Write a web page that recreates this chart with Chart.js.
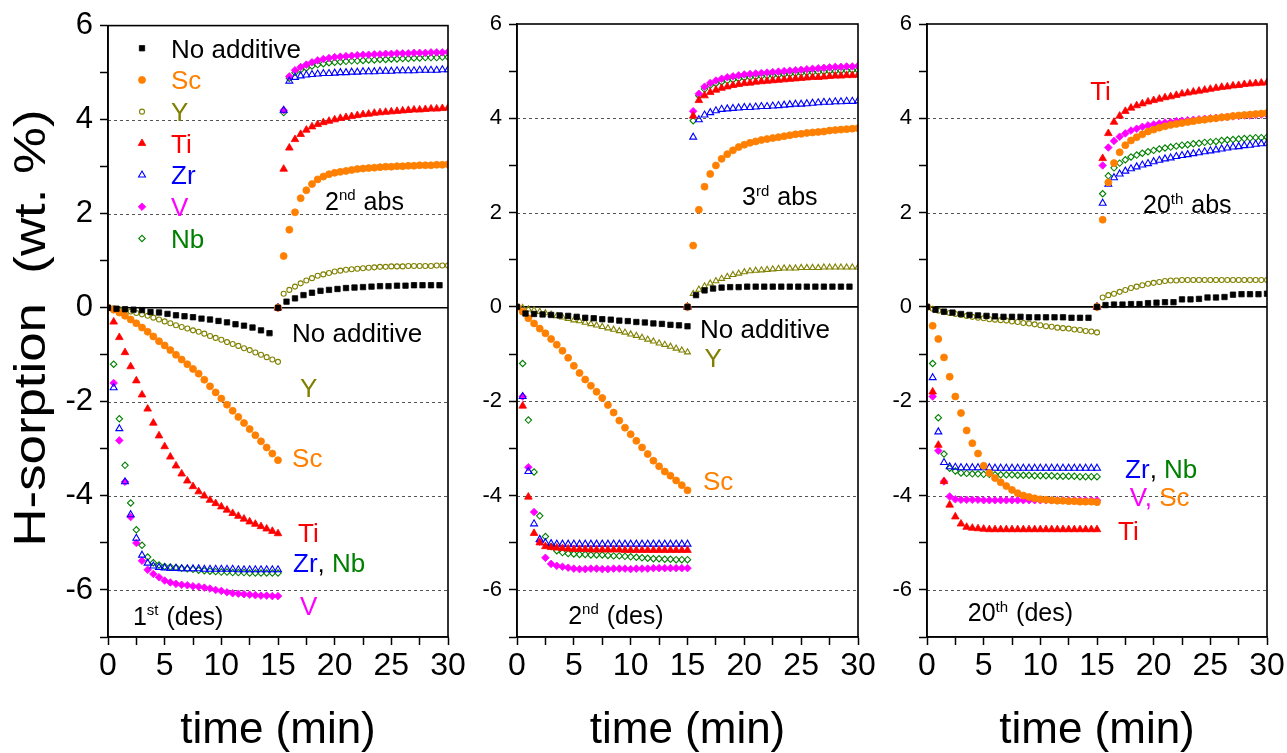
<!DOCTYPE html>
<html>
<head>
<meta charset="utf-8">
<script src="https://cdn.jsdelivr.net/npm/chart.js"></script>
<style>
  html, body { margin: 0; padding: 0; background: #fff; }
  #wrap { position: relative; width: 1287px; height: 753px; overflow: hidden; }
  canvas { position: absolute; top: 0; }
</style>
</head>
<body>
<div id="wrap">
  <canvas id="c1" width="470" height="753" style="left:0px"></canvas>
  <canvas id="c2" width="410" height="753" style="left:470px"></canvas>
  <canvas id="c3" width="407" height="753" style="left:880px"></canvas>
</div>
<script>
// ---------- time axes (min) ----------
const tDes = [0,0.5,1,1.5,2,2.5,3,3.5,4,4.5,5,5.5,6,6.5,7,7.5,8,8.5,9,9.5,10,10.5,11,11.5,12,12.5,13,13.5,14,14.5,15];
const tAbs = [15,15.5,16,16.5,17,17.5,18,18.5,19,19.5,20,20.5,21,21.5,22,22.5,23,23.5,24,24.5,25,25.5,26,26.5,27,27.5,28,28.5,29,29.5,30];
const tNaDes = [0,0.75,1.5,2.25,3,3.75,4.5,5.25,6,6.75,7.5,8.25,9,9.75,10.5,11.25,12,12.75,13.5,14.25,15];
const tNaAbs = [15,15.75,16.5,17.25,18,18.75,19.5,20.25,21,21.75,22.5,23.25,24,24.75,25.5,26.25,27,27.75,28.5,29.25,30];

// ---------- tick labels ----------
const yTickLabels = [-6,-4,-2,0,2,4,6];
const xTickLabels = [0,5,10,15,20,25,30];
const seriesNames = ['No additive','Sc','Y','Ti','Zr','V','Nb'];

// ---------- panel 1 : 1st desorption / 2nd absorption (wt.%) ----------
const p1NoAddDes = [0,-0.02,-0.03,-0.04,-0.05,-0.09,-0.1,-0.13,-0.16,-0.18,-0.2,-0.23,-0.25,-0.28,-0.31,-0.35,-0.38,-0.42,-0.48,-0.54];
const p1NoAddAbs = [0,0.13,0.2,0.27,0.32,0.36,0.38,0.4,0.42,0.43,0.44,0.45,0.46,0.46,0.47,0.47,0.48,0.48,0.48,0.48];
const p1ScDes = [0,-0.04,-0.1,-0.17,-0.25,-0.33,-0.42,-0.51,-0.61,-0.71,
                 -0.8,-0.9,-1.0,-1.1,-1.2,-1.3,-1.4,-1.53,-1.67,-1.8,
                 -1.93,-2.06,-2.19,-2.32,-2.45,-2.58,-2.71,-2.84,-2.97,-3.1,-3.24];
const p1ScAbs = [0,1.1,1.66,2.03,2.33,2.5,2.63,2.73,2.79,2.84,
                 2.87,2.89,2.91,2.93,2.95,2.96,2.97,2.98,2.99,3.0,
                 3.0,3.01,3.01,3.02,3.02,3.03,3.03,3.03,3.04,3.04,3.05];
const p1YDes = [0,-0.01,-0.03,-0.05,-0.08,-0.11,-0.14,-0.17,-0.21,-0.25,
                -0.29,-0.33,-0.37,-0.41,-0.44,-0.48,-0.51,-0.55,-0.6,-0.64,
                -0.68,-0.73,-0.77,-0.81,-0.86,-0.9,-0.95,-1.0,-1.05,-1.1,-1.15];
const p1YAbs = [0,0.3,0.38,0.45,0.52,0.58,0.63,0.68,0.71,0.74,
                0.77,0.79,0.81,0.82,0.83,0.84,0.85,0.86,0.87,0.87,
                0.88,0.88,0.88,0.89,0.89,0.89,0.89,0.89,0.9,0.9,0.9];
const p1TiDes = [0,-0.3,-0.63,-0.95,-1.25,-1.55,-1.85,-2.15,-2.45,-2.72,
                 -2.95,-3.17,-3.36,-3.53,-3.68,-3.8,-3.91,-4.0,-4.09,-4.16,
                 -4.23,-4.3,-4.37,-4.43,-4.49,-4.55,-4.6,-4.65,-4.7,-4.75,-4.8];
const p1TiAbs = [0,2.95,3.4,3.58,3.69,3.78,3.85,3.9,3.94,3.97,
                 4.0,4.03,4.05,4.07,4.09,4.11,4.12,4.14,4.15,4.16,
                 4.17,4.18,4.19,4.2,4.21,4.21,4.22,4.23,4.23,4.24,4.25];
const p1ZrDes = [0,-1.7,-2.57,-3.7,-4.4,-4.9,-5.26,-5.43,-5.49,-5.52,
                 -5.53,-5.54,-5.54,-5.55,-5.55,-5.55,-5.55,-5.56,-5.56,-5.56,
                 -5.56,-5.56,-5.56,-5.57,-5.57,-5.57,-5.57,-5.57,-5.57,-5.57,-5.57];
const p1ZrAbs = [0,4.2,4.82,4.9,4.93,4.95,4.96,4.97,4.98,4.98,
                 4.99,5.0,5.0,5.01,5.01,5.02,5.02,5.02,5.03,5.03,
                 5.03,5.04,5.04,5.04,5.04,5.05,5.05,5.05,5.05,5.06,5.06];
const p1VDes = [0,-1.6,-2.82,-3.7,-4.45,-5.0,-5.38,-5.57,-5.66,-5.73,
                -5.8,-5.84,-5.87,-5.89,-5.9,-5.92,-5.93,-5.95,-5.97,-6.0,
                -6.02,-6.05,-6.07,-6.08,-6.09,-6.1,-6.11,-6.12,-6.12,-6.13,-6.13];
const p1VAbs = [0,4.2,4.92,5.05,5.12,5.17,5.22,5.26,5.29,5.31,
                5.33,5.34,5.35,5.36,5.37,5.38,5.38,5.39,5.39,5.4,
                5.4,5.41,5.41,5.41,5.42,5.42,5.42,5.43,5.43,5.43,5.44];
const p1NbDes = [0,-1.2,-2.36,-3.35,-4.15,-4.72,-5.05,-5.3,-5.42,-5.47,
                 -5.5,-5.51,-5.52,-5.54,-5.55,-5.56,-5.58,-5.59,-5.6,-5.61,
                 -5.62,-5.62,-5.63,-5.63,-5.63,-5.64,-5.64,-5.64,-5.64,-5.64,-5.64];
const p1NbAbs = [0,4.15,4.88,5.0,5.06,5.1,5.14,5.17,5.19,5.21,
                 5.22,5.23,5.24,5.25,5.25,5.26,5.27,5.27,5.28,5.28,
                 5.29,5.29,5.3,5.3,5.31,5.31,5.32,5.32,5.32,5.33,5.33];

// ---------- panel 2 : 2nd desorption / 3rd absorption ----------
const p2NoAddDes = [0,-0.14,-0.15,-0.16,-0.17,-0.18,-0.19,-0.21,-0.23,-0.24,-0.26,-0.27,-0.29,-0.3,-0.32,-0.33,-0.35,-0.36,-0.38,-0.39,-0.41];
const p2NoAddAbs = [0,0.25,0.35,0.39,0.41,0.42,0.42,0.43,0.43,0.43,0.43,0.43,0.43,0.43,0.43,0.43,0.43,0.43,0.43,0.43];
const p2ScDes = [0,-0.1,-0.24,-0.35,-0.46,-0.56,-0.68,-0.8,-0.93,-1.08,
                 -1.25,-1.4,-1.54,-1.67,-1.8,-1.93,-2.08,-2.24,-2.41,-2.56,
                 -2.7,-2.84,-2.98,-3.12,-3.26,-3.38,-3.49,-3.58,-3.68,-3.78,-3.89];
const p2ScAbs = [0,1.3,2.06,2.55,2.82,3.0,3.14,3.24,3.32,3.39,
                 3.44,3.48,3.51,3.54,3.56,3.58,3.6,3.62,3.64,3.66,
                 3.67,3.69,3.7,3.71,3.72,3.74,3.75,3.76,3.77,3.78,3.79];
const p2YDes = [0,-0.02,-0.05,-0.07,-0.1,-0.13,-0.16,-0.19,-0.22,-0.25,
                -0.28,-0.3,-0.33,-0.36,-0.39,-0.42,-0.45,-0.48,-0.51,-0.54,
                -0.58,-0.61,-0.65,-0.69,-0.73,-0.77,-0.8,-0.84,-0.88,-0.92,-0.96];
const p2YAbs = [0,0.28,0.37,0.44,0.5,0.55,0.6,0.64,0.68,0.71,
                0.74,0.76,0.77,0.78,0.79,0.8,0.81,0.82,0.82,0.82,
                0.83,0.83,0.83,0.83,0.84,0.84,0.84,0.84,0.84,0.84,0.84];
const p2TiDes = [0,-2.1,-4.03,-4.8,-5.0,-5.08,-5.1,-5.11,-5.12,-5.13,
                 -5.14,-5.14,-5.14,-5.15,-5.15,-5.15,-5.15,-5.15,-5.15,-5.16,
                 -5.16,-5.16,-5.16,-5.16,-5.16,-5.16,-5.16,-5.16,-5.16,-5.16,-5.16];
const p2TiAbs = [0,4.05,4.38,4.48,4.55,4.6,4.64,4.67,4.7,4.72,
                 4.74,4.75,4.77,4.78,4.79,4.8,4.81,4.82,4.83,4.84,
                 4.85,4.86,4.87,4.87,4.88,4.89,4.9,4.9,4.91,4.91,4.92];
const p2ZrDes = [0,-1.9,-3.49,-4.6,-4.93,-5.0,-5.02,-5.03,-5.03,-5.03,
                 -5.03,-5.03,-5.03,-5.03,-5.03,-5.03,-5.03,-5.03,-5.03,-5.03,
                 -5.03,-5.03,-5.03,-5.03,-5.03,-5.03,-5.03,-5.03,-5.03,-5.03,-5.03];
const p2ZrAbs = [0,3.6,3.97,4.07,4.12,4.16,4.19,4.2,4.21,4.22,
                 4.23,4.23,4.24,4.25,4.25,4.26,4.27,4.28,4.29,4.3,
                 4.3,4.31,4.32,4.33,4.34,4.34,4.35,4.35,4.36,4.36,4.37];
const p2VDes = [0,-1.9,-3.4,-4.35,-4.98,-5.32,-5.45,-5.49,-5.51,-5.53,
                -5.55,-5.56,-5.56,-5.55,-5.55,-5.56,-5.56,-5.55,-5.55,-5.55,
                -5.56,-5.55,-5.55,-5.55,-5.54,-5.54,-5.54,-5.54,-5.54,-5.54,-5.54];
const p2VAbs = [0,4.15,4.52,4.67,4.75,4.8,4.84,4.87,4.89,4.91,
                4.93,4.94,4.95,4.96,4.97,4.98,4.99,5.0,5.01,5.02,
                5.03,5.04,5.05,5.06,5.07,5.08,5.09,5.09,5.1,5.1,5.11];
const p2NbDes = [0,-1.2,-2.4,-3.5,-4.43,-4.87,-5.08,-5.17,-5.21,-5.23,
                 -5.24,-5.25,-5.25,-5.26,-5.26,-5.26,-5.27,-5.28,-5.28,-5.29,
                 -5.3,-5.31,-5.32,-5.33,-5.34,-5.34,-5.35,-5.35,-5.36,-5.36,-5.36];
const p2NbAbs = [0,3.95,4.48,4.62,4.7,4.74,4.77,4.8,4.82,4.84,
                 4.86,4.87,4.88,4.89,4.9,4.91,4.92,4.93,4.94,4.95,
                 4.96,4.97,4.97,4.98,4.99,5.0,5.0,5.01,5.01,5.02,5.02];

// ---------- panel 3 : 20th desorption / 20th absorption ----------
const p3NoAddDes = [0,-0.06,-0.1,-0.12,-0.15,-0.17,-0.18,-0.19,-0.2,-0.21,-0.21,-0.21,-0.22,-0.22,-0.22,-0.22,-0.22,-0.23,-0.23,-0.23];
const p3NoAddAbs = [0,0.04,0.05,0.05,0.06,0.06,0.08,0.09,0.1,0.1,0.16,0.16,0.17,0.2,0.2,0.21,0.26,0.27,0.27,0.27,0.28];
const p3ScDes = [0,-0.4,-0.68,-1.07,-1.48,-1.9,-2.25,-2.62,-2.89,-3.11,
                 -3.37,-3.52,-3.63,-3.72,-3.8,-3.88,-3.95,-4.0,-4.03,-4.06,
                 -4.08,-4.09,-4.1,-4.11,-4.11,-4.12,-4.12,-4.13,-4.13,-4.13,-4.14];
const p3ScAbs = [0,1.85,2.64,3.05,3.28,3.43,3.53,3.6,3.66,3.72,
                 3.76,3.8,3.83,3.86,3.88,3.9,3.92,3.94,3.96,3.97,
                 3.99,4.0,4.02,4.03,4.05,4.06,4.07,4.08,4.09,4.1,4.11];
const p3YDes = [0,-0.04,-0.08,-0.11,-0.13,-0.15,-0.17,-0.19,-0.21,-0.23,
                -0.24,-0.26,-0.27,-0.28,-0.29,-0.31,-0.32,-0.34,-0.35,-0.37,
                -0.39,-0.41,-0.42,-0.44,-0.45,-0.46,-0.48,-0.49,-0.51,-0.52,-0.54];
const p3YAbs = [0,0.2,0.25,0.28,0.32,0.36,0.4,0.43,0.46,0.49,
                0.51,0.53,0.55,0.56,0.56,0.57,0.57,0.57,0.57,0.57,
                0.57,0.57,0.57,0.57,0.57,0.57,0.57,0.57,0.57,0.57,0.57];
const p3TiDes = [0,-1.8,-2.93,-3.7,-4.2,-4.45,-4.6,-4.67,-4.69,-4.7,
                 -4.71,-4.72,-4.72,-4.72,-4.72,-4.72,-4.72,-4.72,-4.72,-4.72,
                 -4.72,-4.72,-4.72,-4.72,-4.72,-4.72,-4.72,-4.72,-4.72,-4.72,-4.72];
const p3TiAbs = [0,3.15,3.68,3.92,4.05,4.15,4.22,4.27,4.31,4.35,
                 4.38,4.41,4.44,4.46,4.49,4.52,4.54,4.56,4.58,4.6,
                 4.62,4.64,4.66,4.67,4.69,4.7,4.72,4.73,4.74,4.75,4.76];
const p3ZrDes = [0,-1.5,-2.65,-3.3,-3.39,-3.4,-3.41,-3.41,-3.41,-3.41,
                 -3.41,-3.41,-3.42,-3.42,-3.42,-3.42,-3.42,-3.42,-3.42,-3.42,
                 -3.42,-3.42,-3.42,-3.42,-3.42,-3.42,-3.42,-3.42,-3.42,-3.42,-3.42];
const p3ZrAbs = [0,2.2,2.6,2.74,2.82,2.88,2.93,2.97,3.01,3.04,
                 3.08,3.11,3.14,3.16,3.19,3.21,3.23,3.25,3.27,3.29,
                 3.31,3.33,3.35,3.37,3.39,3.4,3.42,3.43,3.45,3.46,3.47];
const p3VDes = [0,-1.9,-3.05,-3.7,-4.02,-4.08,-4.09,-4.09,-4.09,-4.09,
                -4.1,-4.1,-4.1,-4.1,-4.1,-4.1,-4.1,-4.1,-4.1,-4.1,
                -4.1,-4.1,-4.1,-4.1,-4.1,-4.1,-4.1,-4.1,-4.1,-4.1,-4.1];
const p3VAbs = [0,3.0,3.38,3.52,3.61,3.68,3.74,3.78,3.82,3.85,
                3.87,3.89,3.91,3.92,3.94,3.95,3.96,3.97,3.98,3.99,
                4.0,4.01,4.02,4.03,4.04,4.05,4.06,4.06,4.07,4.08,4.08];
const p3NbDes = [0,-1.2,-2.35,-3.12,-3.42,-3.48,-3.52,-3.53,-3.54,-3.54,
                 -3.55,-3.55,-3.56,-3.56,-3.56,-3.56,-3.57,-3.57,-3.57,-3.58,
                 -3.58,-3.58,-3.58,-3.59,-3.59,-3.59,-3.59,-3.6,-3.6,-3.6,-3.6];
const p3NbAbs = [0,2.4,2.78,2.95,3.05,3.12,3.18,3.22,3.26,3.29,
                 3.32,3.35,3.37,3.39,3.41,3.43,3.44,3.46,3.47,3.49,
                 3.5,3.51,3.53,3.54,3.55,3.56,3.57,3.58,3.59,3.59,3.6];

// ---------- rendering ----------
const FONT = '"Liberation Sans", Arial, Helvetica, sans-serif';
Chart.defaults.font.family = FONT;
Chart.defaults.color = '#000';

const STYLE = {
  'No additive': { color: '#000000', pointStyle: 'rect',     radius: 3.8, filled: true  },
  'Sc':          { color: '#FF8000', pointStyle: 'circle',   radius: 3.5, filled: true  },
  'Y':           { color: '#808000', pointStyle: 'circle',   radius: 2.5, filled: false },
  'Ti':          { color: '#FF0000', pointStyle: 'triangle', radius: 4.4, filled: true  },
  'Zr':          { color: '#0000FF', pointStyle: 'triangle', radius: 4.0, filled: false },
  'V':           { color: '#FF00FF', pointStyle: 'rectRot',  radius: 3.8, filled: true  },
  'Nb':          { color: '#008000', pointStyle: 'rectRot',  radius: 3.2, filled: false }
};

function pts(tA, vA, tB, vB) {
  return vA.map((v, i) => ({ x: tA[i], y: v })).concat(vB.map((v, i) => ({ x: tB[i], y: v })));
}

function dataset(name, data, override) {
  const s = Object.assign({}, STYLE[name], override || {});
  return {
    label: name, data,
    showLine: false,
    pointStyle: s.pointStyle,
    pointRadius: s.radius,
    pointHoverRadius: s.radius,
    pointBorderWidth: s.filled ? 0.8 : 1.1,
    borderColor: s.color,
    backgroundColor: s.filled ? s.color : 'rgba(255,255,255,0)',
    pointBackgroundColor: s.filled ? s.color : 'rgba(255,255,255,0)',
    pointBorderColor: s.color
  };
}

const decor = {
  id: 'decor',
  beforeDatasetsDraw(chart, args, opts) {
    const { ctx, chartArea: a, scales: { y } } = chart;
    ctx.save();
    ctx.strokeStyle = '#555';
    ctx.lineWidth = 1;
    ctx.setLineDash([3, 3]);
    for (const v of opts.dashed) {
      const py = Math.round(y.getPixelForValue(v)) + 0.5;
      ctx.beginPath(); ctx.moveTo(a.left, py); ctx.lineTo(a.right, py); ctx.stroke();
    }
    ctx.setLineDash([]);
    ctx.strokeStyle = '#000';
    ctx.lineWidth = 1.6;
    const z = y.getPixelForValue(0);
    ctx.beginPath(); ctx.moveTo(a.left, z); ctx.lineTo(a.right, z); ctx.stroke();
    ctx.restore();
  },
  afterDraw(chart, args, opts) {
    const { ctx, chartArea: a, scales: { x, y } } = chart;
    ctx.save();
    ctx.strokeStyle = '#000';
    ctx.lineWidth = 1.6;
    ctx.strokeRect(a.left, a.top, a.width, a.height);
    ctx.textBaseline = 'alphabetic';
    ctx.textAlign = 'left';
    for (const lab of opts.labels) {
      let px = x.getPixelForValue(lab.x);
      const py = y.getPixelForValue(lab.y);
      const size = lab.size;
      for (const p of lab.parts) {
        const fs = p.sup ? size * 0.6 : size;
        ctx.font = fs + 'px ' + FONT;
        ctx.fillStyle = p.c;
        ctx.fillText(p.t, px, p.sup ? py - size * 0.38 : py);
        px += ctx.measureText(p.t).width + (p.sup ? 1 : 0);
      }
    }
    if (opts.legend) {
      const L = opts.legend;
      chart.data.datasets.forEach((ds, i) => {
        const s = STYLE[ds.label];
        const base = a.top + L.top + i * L.step;
        const my = base - L.size * 0.36;
        ctx.fillStyle = s.filled ? s.color : 'rgba(255,255,255,0)';
        ctx.strokeStyle = s.color;
        ctx.lineWidth = ds.pointBorderWidth;
        Chart.helpers.drawPoint(ctx, { pointStyle: ds.pointStyle, radius: ds.pointRadius, borderWidth: ds.pointBorderWidth, rotation: 0 }, a.left + L.markerX, my);
        ctx.font = L.size + 'px ' + FONT;
        ctx.fillStyle = s.color;
        ctx.fillText(ds.label, a.left + L.textX, base);
      });
    }
    if (opts.yTitle) {
      const T = opts.yTitle;
      ctx.save();
      ctx.translate(T.baselineX, T.centerY);
      ctx.rotate(-Math.PI / 2);
      ctx.scale(T.stretch, 1);
      ctx.font = T.size + 'px ' + FONT;
      ctx.fillStyle = '#000';
      ctx.textAlign = 'center';
      ctx.textBaseline = 'alphabetic';
      ctx.fillText(T.text, 0, 0);
      ctx.restore();
    }
    ctx.restore();
  }
};

function makeChart(id, datasets, cfg) {
  return new Chart(document.getElementById(id), {
    type: 'scatter',
    data: { datasets },
    plugins: [decor],
    options: {
      responsive: false,
      animation: false,
      events: [],
      layout: { padding: { left: 0, right: cfg.padRight, top: 24, bottom: 0 } },
      plugins: {
        legend: { display: false },
        tooltip: { enabled: false },
        decor: { dashed: [-6, -4, -2, 2, 4], labels: cfg.labels, legend: cfg.legend, yTitle: cfg.yTitle }
      },
      scales: {
        x: {
          type: 'linear', min: 0, max: 30,
          afterFit: s => { s.height = 116; },
          afterBuildTicks: s => { s.ticks = [0,2.5,5,7.5,10,12.5,15,17.5,20,22.5,25,27.5,30].map(v => ({ value: v })); },
          ticks: {
            autoSkip: false, maxRotation: 0, padding: 2,
            font: { size: 32 },
            callback: v => xTickLabels.includes(v) ? String(v) : ''
          },
          grid: { drawOnChartArea: false, drawTicks: true, tickLength: 8, tickColor: '#000', tickWidth: 1.5 },
          border: { display: true, color: '#000', width: 1.6 },
          title: { display: true, text: 'time (min)', font: { size: 44, lineHeight: 1.0 }, padding: { top: 0, bottom: 0 } }
        },
        y: {
          type: 'linear', min: -7, max: 6,
          afterFit: s => { s.width = cfg.yWidth; },
          afterBuildTicks: s => { s.ticks = [-7,-6,-5,-4,-3,-2,-1,0,1,2,3,4,5,6].map(v => ({ value: v })); },
          ticks: {
            autoSkip: false, padding: 7,
            font: { size: cfg.yTickSize },
            callback: v => yTickLabels.includes(v) ? String(v) : ''
          },
          grid: { drawOnChartArea: false, drawTicks: true, tickLength: 8, tickColor: '#000', tickWidth: 1.5 },
          border: { display: true, color: '#000', width: 1.6 },
          title: { display: false }
        }
      }
    }
  });
}

const K = '#000';
const sup = (t, c) => ({ t, c, sup: true });

// Panel 1
makeChart('c1', [
  dataset('No additive', pts(tNaDes, p1NoAddDes, tNaAbs, p1NoAddAbs)),
  dataset('Sc', pts(tDes, p1ScDes, tAbs, p1ScAbs)),
  dataset('Y',  pts(tDes, p1YDes,  tAbs, p1YAbs)),
  dataset('Ti', pts(tDes, p1TiDes, tAbs, p1TiAbs)),
  dataset('Zr', pts(tDes, p1ZrDes, tAbs, p1ZrAbs)),
  dataset('V',  pts(tDes, p1VDes,  tAbs, p1VAbs)),
  dataset('Nb', pts(tDes, p1NbDes, tAbs, p1NbAbs))
], {
  padRight: 22, yWidth: 108, yTickSize: 31,
  yTitle: { text: 'H-sorption  (wt. %)', size: 44, stretch: 1.2, baselineX: 45, centerY: 328 },
  legend: { markerX: 34, textX: 63, top: 32, step: 31.7, size: 26 },
  labels: [
    { x: 19.15, y: 2.08, size: 25, parts: [{ t: '2', c: K }, sup('nd', K), { t: ' abs', c: K }] },
    { x: 16.24, y: -0.735, size: 26, parts: [{ t: 'No additive', c: K }] },
    { x: 16.95, y: -1.9, size: 26, parts: [{ t: 'Y', c: STYLE['Y'].color }] },
    { x: 16.24, y: -3.39, size: 26, parts: [{ t: 'Sc', c: STYLE['Sc'].color }] },
    { x: 16.77, y: -4.98, size: 26, parts: [{ t: 'Ti', c: STYLE['Ti'].color }] },
    { x: 16.33, y: -5.62, size: 26, parts: [{ t: 'Zr', c: STYLE['Zr'].color }, { t: ', ', c: K }, { t: 'Nb', c: STYLE['Nb'].color }] },
    { x: 16.95, y: -6.53, size: 26, parts: [{ t: 'V', c: STYLE['V'].color }] },
    { x: 2.2, y: -6.74, size: 25, parts: [{ t: '1', c: K }, sup('st', K), { t: ' (des)', c: K }] }
  ]
});

// Panel 2
makeChart('c2', [
  dataset('No additive', pts(tNaDes, p2NoAddDes, tNaAbs, p2NoAddAbs)),
  dataset('Sc', pts(tDes, p2ScDes, tAbs, p2ScAbs)),
  dataset('Y',  pts(tDes, p2YDes,  tAbs, p2YAbs), { pointStyle: 'triangle', radius: 3.4 }),
  dataset('Ti', pts(tDes, p2TiDes, tAbs, p2TiAbs)),
  dataset('Zr', pts(tDes, p2ZrDes, tAbs, p2ZrAbs)),
  dataset('V',  pts(tDes, p2VDes,  tAbs, p2VAbs)),
  dataset('Nb', pts(tDes, p2NbDes, tAbs, p2NbAbs))
], {
  padRight: 22, yWidth: 47, yTickSize: 22,
  labels: [
    { x: 19.8, y: 2.16, size: 25, parts: [{ t: '3', c: K }, sup('rd', K), { t: ' abs', c: K }] },
    { x: 16.1, y: -0.66, size: 26, parts: [{ t: 'No additive', c: K }] },
    { x: 16.5, y: -1.27, size: 26, parts: [{ t: 'Y', c: STYLE['Y'].color }] },
    { x: 16.36, y: -3.88, size: 26, parts: [{ t: 'Sc', c: STYLE['Sc'].color }] },
    { x: 4.5, y: -6.72, size: 25, parts: [{ t: '2', c: K }, sup('nd', K), { t: ' (des)', c: K }] }
  ]
});

// Panel 3
makeChart('c3', [
  dataset('No additive', pts(tNaDes, p3NoAddDes, tNaAbs, p3NoAddAbs)),
  dataset('Sc', pts(tDes, p3ScDes, tAbs, p3ScAbs)),
  dataset('Y',  pts(tDes, p3YDes,  tAbs, p3YAbs)),
  dataset('Ti', pts(tDes, p3TiDes, tAbs, p3TiAbs)),
  dataset('Zr', pts(tDes, p3ZrDes, tAbs, p3ZrAbs)),
  dataset('V',  pts(tDes, p3VDes,  tAbs, p3VAbs)),
  dataset('Nb', pts(tDes, p3NbDes, tAbs, p3NbAbs))
], {
  padRight: 20, yWidth: 47, yTickSize: 22,
  labels: [
    { x: 14.4, y: 4.39, size: 26, parts: [{ t: 'Ti', c: STYLE['Ti'].color }] },
    { x: 19.06, y: 1.99, size: 25, parts: [{ t: '20', c: K }, sup('th', K), { t: ' abs', c: K }] },
    { x: 17.48, y: -3.63, size: 26, parts: [{ t: 'Zr', c: STYLE['Zr'].color }, { t: ', ', c: K }, { t: 'Nb', c: STYLE['Nb'].color }] },
    { x: 17.9, y: -4.23, size: 26, parts: [{ t: 'V, ', c: STYLE['V'].color }, { t: 'Sc', c: STYLE['Sc'].color }] },
    { x: 16.86, y: -4.94, size: 26, parts: [{ t: 'Ti', c: STYLE['Ti'].color }] },
    { x: 3.6, y: -6.67, size: 25, parts: [{ t: '20', c: K }, sup('th', K), { t: ' (des)', c: K }] }
  ]
});
</script>
</body>
</html>
